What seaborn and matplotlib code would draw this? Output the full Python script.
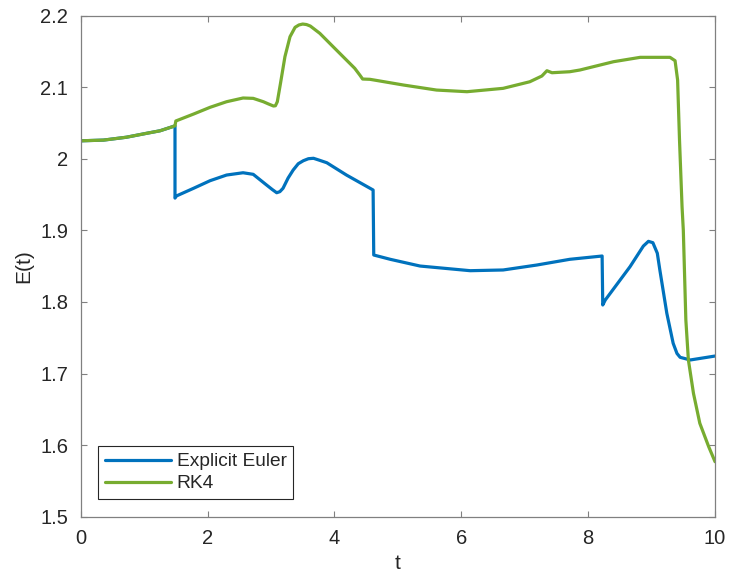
import numpy as np
import pandas as pd
import seaborn as sns
import matplotlib
matplotlib.use("Agg")
import matplotlib.pyplot as plt
from matplotlib.ticker import FixedLocator, FuncFormatter

# Energy E(t) from two time integrators
t_euler = [0.0, 0.36, 0.72, 1.04, 1.25, 1.44, 1.487, 1.487, 1.51, 1.78, 2.04, 2.30,
           2.56, 2.72, 2.93, 3.02, 3.09, 3.14, 3.19, 3.27, 3.35, 3.43, 3.51, 3.59,
           3.67, 3.76, 3.88, 4.19, 4.61, 4.62, 4.88, 5.35, 6.14, 6.66, 7.19, 7.71,
           8.22, 8.23, 8.27, 8.66, 8.87, 8.95, 9.02, 9.09, 9.13, 9.24, 9.34, 9.40,
           9.45, 9.61, 10.0]
e_euler = [2.025, 2.026, 2.030, 2.0355, 2.039, 2.0445, 2.046, 1.945, 1.948, 1.9587,
           1.9693, 1.9772, 1.9804, 1.9782, 1.9633, 1.957, 1.9525, 1.954, 1.9587,
           1.973, 1.9842, 1.993, 1.9972, 2.000, 2.0006, 1.998, 1.9944, 1.9772,
           1.9563, 1.8655, 1.8595, 1.8501, 1.8436, 1.8446, 1.8515, 1.8595, 1.8641,
           1.7957, 1.8027, 1.8492, 1.878, 1.8846, 1.8827, 1.868, 1.8446, 1.7841,
           1.7422, 1.728, 1.7226, 1.7189, 1.7244]

t_rk4 = [0.0, 0.36, 0.72, 1.04, 1.25, 1.44, 1.487, 1.50, 1.78, 2.04, 2.30, 2.56,
         2.72, 2.88, 2.96, 3.04, 3.07, 3.10, 3.15, 3.22, 3.30, 3.38, 3.44, 3.50,
         3.56, 3.62, 3.77, 3.98, 4.19, 4.32, 4.40, 4.445, 4.56, 4.72, 5.09, 5.61,
         6.09, 6.66, 7.08, 7.27, 7.35, 7.43, 7.71, 7.87, 8.19, 8.40, 8.82, 9.29,
         9.37, 9.41, 9.44, 9.48, 9.50, 9.54, 9.58, 9.66, 9.76, 9.90, 10.0]
e_rk4 = [2.025, 2.026, 2.030, 2.0355, 2.039, 2.0445, 2.046, 2.0527, 2.0624, 2.0718,
         2.0796, 2.0848, 2.0843, 2.0796, 2.0765, 2.0736, 2.074, 2.0796, 2.1053,
         2.1425, 2.1704, 2.1835, 2.1868, 2.1881, 2.1874, 2.1853, 2.1751, 2.1564,
         2.1378, 2.1263, 2.1169, 2.1113, 2.1109, 2.1085, 2.1029, 2.0959, 2.0936,
         2.0983, 2.1075, 2.1155, 2.1229, 2.1201, 2.1215, 2.1239, 2.1309, 2.1355,
         2.1416, 2.1416, 2.1369, 2.1099, 2.0261, 1.933, 1.90, 1.7747, 1.7189,
         1.6723, 1.6305, 1.5978, 1.5768]

methods = ["Explicit Euler", "RK4"]
colors = ["#0072BD", "#77AC30"]
x_ticks = [0, 2, 4, 6, 8, 10]
y_ticks = [1.5, 1.6, 1.7, 1.8, 1.9, 2.0, 2.1, 2.2]

df = pd.concat([
    pd.DataFrame({"t": t_euler, "E": e_euler, "method": methods[0]}),
    pd.DataFrame({"t": t_rk4, "E": e_rk4, "method": methods[1]}),
], ignore_index=True)

sns.set_style("white")
plt.rcParams["font.family"] = ["Liberation Sans", "DejaVu Sans"]

fig = plt.figure(figsize=(7.3, 5.75), dpi=100)
ax = fig.add_axes([0.1105, 0.1014, 0.869, 0.8716])

sns.lineplot(data=df, x="t", y="E", hue="method", hue_order=methods,
             palette=colors, estimator=None, sort=False, linewidth=2.3, ax=ax)

ax.set_xlim(0, 10)
ax.set_ylim(1.5, 2.2)
ax.xaxis.set_major_locator(FixedLocator(x_ticks))
ax.yaxis.set_major_locator(FixedLocator(y_ticks))
ax.yaxis.set_major_formatter(FuncFormatter(lambda v, p: f"{v:g}"))
ax.xaxis.set_major_formatter(FuncFormatter(lambda v, p: f"{v:g}"))

axis_gray = "#808080"
for s in ax.spines.values():
    s.set_visible(True)
    s.set_color(axis_gray)
    s.set_linewidth(0.9)
ax.tick_params(direction="in", length=4.5, width=0.8, color=axis_gray,
               labelsize=14.5, labelcolor="#262626", pad=9,
               top=True, right=True, bottom=True, left=True)

ax.set_xlabel("t", fontsize=15, color="#262626", labelpad=4)
ax.set_ylabel("E(t)", fontsize=15, color="#262626", labelpad=5)

old = ax.get_legend()
handles = old.legend_handles
labels = [t.get_text() for t in old.get_texts()]
old.remove()
leg = ax.legend(handles, labels, loc="lower left", bbox_to_anchor=(0.027, 0.035),
                fontsize=13.8, frameon=True, fancybox=False, framealpha=1,
                edgecolor="#262626", handlelength=3.45, handletextpad=0.32,
                borderpad=0.35, labelspacing=0.25, borderaxespad=0)
leg.get_frame().set_linewidth(0.8)
for h in leg.legend_handles:
    h.set_linewidth(2.3)

fig.savefig("out.png", dpi=100)
